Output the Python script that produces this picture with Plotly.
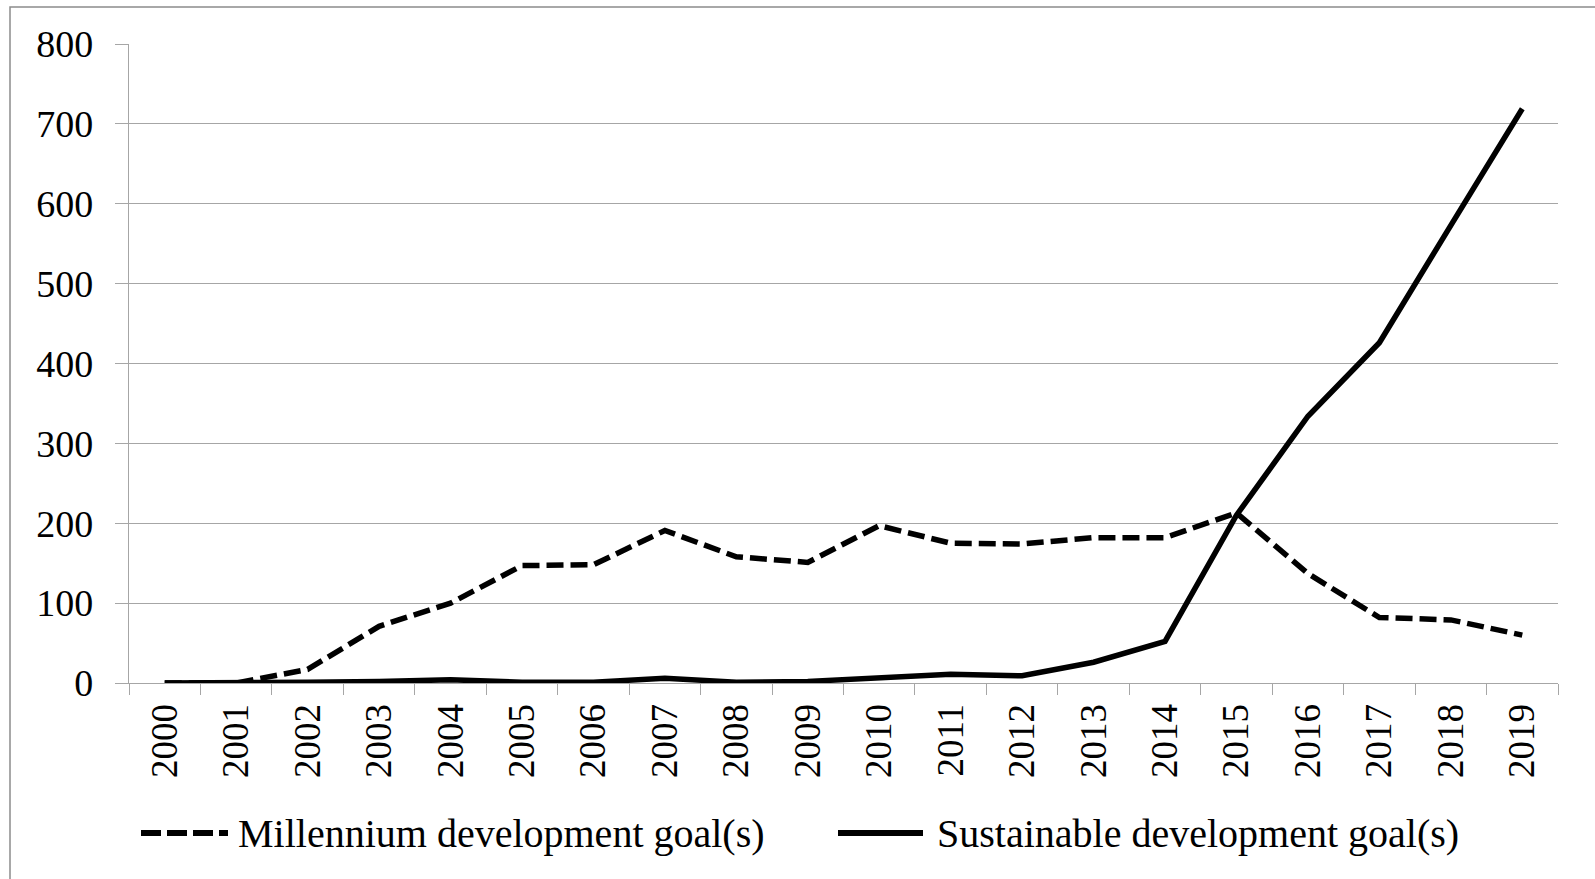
import plotly.graph_objects as go

years = [str(y) for y in range(2000, 2020)]
mdg = [0, 0, 17, 71, 100, 147, 148, 191, 158, 151, 197, 175, 174, 182, 182, 213, 137, 82, 79, 60]
sdg = [0, 0, 1, 2, 4, 1, 1, 6, 1, 2, 6, 11, 9, 26, 52, 210, 334, 426, 573, 719]
series_names = ["Millennium development goal(s)", "Sustainable development goal(s)"]
y_ticks = list(range(0, 801, 100))

FONT = "Liberation Serif"
GRID = "#A6A6A6"
W, H = 1595, 879
L, R, T, B = 129, 37, 44, 196
pw, ph = W - L - R, H - T - B

def px_x(p):
    return (p - L) / pw

def px_y(p):
    return (H - B - p) / ph

fig = go.Figure()
fig.add_trace(go.Scatter(x=years, y=mdg, mode="lines", name=series_names[0],
                         line=dict(color="black", width=5.5, dash="17px,7px"),
                         showlegend=False))
fig.add_trace(go.Scatter(x=years, y=sdg, mode="lines", name=series_names[1],
                         line=dict(color="black", width=5.5),
                         showlegend=False))

# custom legend (samples + labels) below the axis
leg_y = px_y(833)
shapes = [
    dict(type="rect", xref="paper", yref="paper", x0=px_x(10), x1=px_x(1620),
         y0=px_y(900), y1=px_y(7), line=dict(color="#8C8C8C", width=1.5), layer="below"),
    dict(type="line", xref="paper", yref="paper", x0=px_x(141), x1=px_x(228),
         y0=leg_y, y1=leg_y, line=dict(color="black", width=6, dash="20px,6px")),
    dict(type="line", xref="paper", yref="paper", x0=px_x(838), x1=px_x(923),
         y0=leg_y, y1=leg_y, line=dict(color="black", width=6)),
]
annotations = [
    dict(xref="paper", yref="paper", x=px_x(236), y=leg_y, xanchor="left", yanchor="middle",
         text=series_names[0], showarrow=False, font=dict(family=FONT, size=40, color="black")),
    dict(xref="paper", yref="paper", x=px_x(935), y=leg_y, xanchor="left", yanchor="middle",
         text=series_names[1], showarrow=False, font=dict(family=FONT, size=40, color="black")),
]

fig.update_layout(
    width=W, height=H,
    margin=dict(l=L, r=R, t=T, b=B, pad=0),
    paper_bgcolor="white", plot_bgcolor="white",
    shapes=shapes, annotations=annotations,
    showlegend=False,
    xaxis=dict(type="category", categoryorder="array", categoryarray=years,
               range=[-0.5, 19.5], tickson="boundaries", ticks="outside", ticklen=11,
               tickcolor=GRID, tickwidth=1.3, showline=True, linecolor=GRID, linewidth=1.3,
               showgrid=False, tickangle=-90, ticklabelstandoff=5,
               tickfont=dict(family=FONT, size=37, color="black"), fixedrange=True),
    yaxis=dict(range=[0, 800], tickvals=y_ticks, ticks="outside", ticklen=13,
               tickcolor=GRID, tickwidth=1.3, showline=True, linecolor=GRID, linewidth=1.3,
               showgrid=True, gridcolor=GRID, gridwidth=1.3, zeroline=False,
               ticklabelstandoff=14,
               tickfont=dict(family=FONT, size=38, color="black"), fixedrange=True),
)

fig.write_html("out.html", config={"displayModeBar": False},
               post_script="document.body.style.margin='0';document.body.style.overflow='hidden';")
